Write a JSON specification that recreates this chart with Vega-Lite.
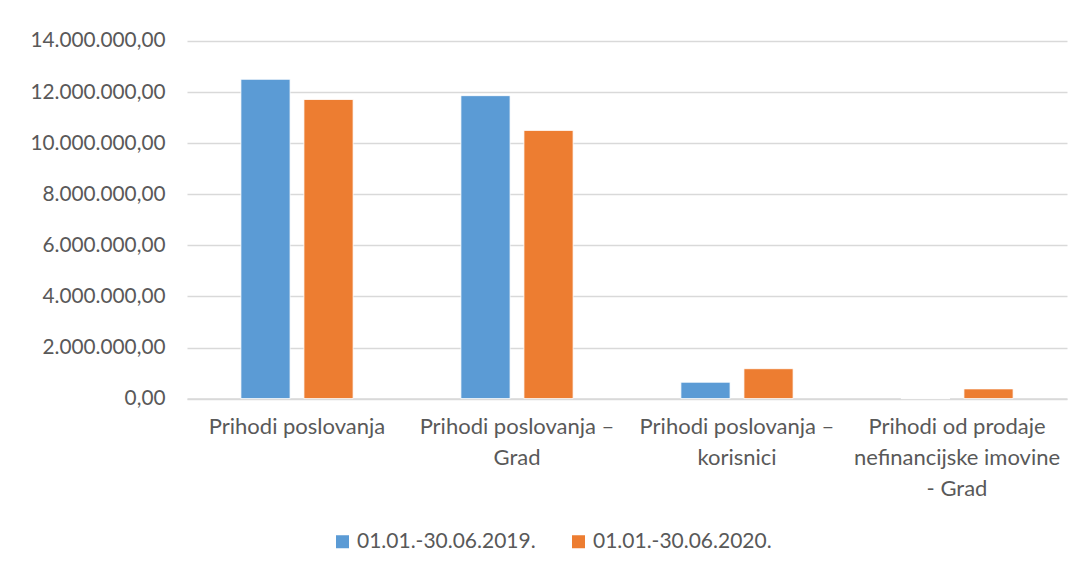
{
  "$schema": "https://vega.github.io/schema/vega-lite/v6.json",
  "width": 880,
  "height": 357.6,
  "autosize": "none",
  "padding": {"left": 187, "top": 41, "right": 16, "bottom": 175},
  "background": "#ffffff",
  "data": {
    "values": [
      {"kategorija": "Prihodi poslovanja", "razdoblje": "01.01.-30.06.2019.", "iznos": 12500000},
      {"kategorija": "Prihodi poslovanja", "razdoblje": "01.01.-30.06.2020.", "iznos": 11710000},
      {"kategorija": "Prihodi poslovanja – Grad", "razdoblje": "01.01.-30.06.2019.", "iznos": 11860000},
      {"kategorija": "Prihodi poslovanja – Grad", "razdoblje": "01.01.-30.06.2020.", "iznos": 10500000},
      {"kategorija": "Prihodi poslovanja – korisnici", "razdoblje": "01.01.-30.06.2019.", "iznos": 640000},
      {"kategorija": "Prihodi poslovanja – korisnici", "razdoblje": "01.01.-30.06.2020.", "iznos": 1170000},
      {"kategorija": "Prihodi od prodaje nefinancijske imovine - Grad", "razdoblje": "01.01.-30.06.2019.", "iznos": 0},
      {"kategorija": "Prihodi od prodaje nefinancijske imovine - Grad", "razdoblje": "01.01.-30.06.2020.", "iznos": 380000}
    ]
  },
  "mark": {"type": "bar", "stroke": "#ffffff", "strokeWidth": 0.8},
  "encoding": {
    "x": {
      "field": "kategorija",
      "type": "nominal",
      "sort": ["Prihodi poslovanja", "Prihodi poslovanja – Grad", "Prihodi poslovanja – korisnici", "Prihodi od prodaje nefinancijske imovine - Grad"],
      "scale": {"paddingInner": 0.49, "paddingOuter": 0.245},
      "axis": {
        "title": null,
        "labelAngle": 0,
        "ticks": false,
        "domainColor": "#d9d9d9",
        "domainWidth": 1.5,
        "labelPadding": 18,
        "labelBaseline": "top",
        "labelFontSize": 22,
        "labelLineHeight": 31,
        "labelColor": "#595959",
        "labelLimit": 0,
        "labelExpr": "datum.value == 'Prihodi poslovanja – Grad' ? ['Prihodi poslovanja –', 'Grad'] : datum.value == 'Prihodi poslovanja – korisnici' ? ['Prihodi poslovanja –', 'korisnici'] : datum.value == 'Prihodi od prodaje nefinancijske imovine - Grad' ? ['Prihodi od prodaje', 'nefinancijske imovine', '- Grad'] : datum.value"
      }
    },
    "xOffset": {
      "field": "razdoblje",
      "type": "nominal",
      "scale": {"paddingInner": 0.22, "paddingOuter": 0}
    },
    "y": {
      "field": "iznos",
      "type": "quantitative",
      "scale": {"domain": [0, 14000000], "nice": false},
      "axis": {
        "title": null,
        "values": [0, 2000000, 4000000, 6000000, 8000000, 10000000, 12000000, 14000000],
        "format": ",.2f",
        "ticks": false,
        "domain": false,
        "gridColor": "#d9d9d9",
        "gridWidth": 1.5,
        "labelPadding": 22,
        "labelFontSize": 20.8,
        "labelColor": "#595959"
      }
    },
    "color": {
      "field": "razdoblje",
      "type": "nominal",
      "scale": {"domain": ["01.01.-30.06.2019.", "01.01.-30.06.2020."], "range": ["#5B9BD5", "#ED7D31"]},
      "legend": {
        "orient": "none",
        "legendX": 145,
        "legendY": 490,
        "direction": "horizontal",
        "title": null,
        "symbolType": "square",
        "symbolSize": 169,
        "symbolStrokeWidth": 0,
        "labelFontSize": 21,
        "labelLimit": 0,
        "labelColor": "#595959",
        "labelOffset": 4,
        "columnPadding": 32
      }
    }
  },
  "config": {
    "font": "Lato",
    "view": {"stroke": null},
    "locale": {"number": {"decimal": ",", "thousands": ".", "grouping": [3], "currency": ["", ""]}}
  }
}
